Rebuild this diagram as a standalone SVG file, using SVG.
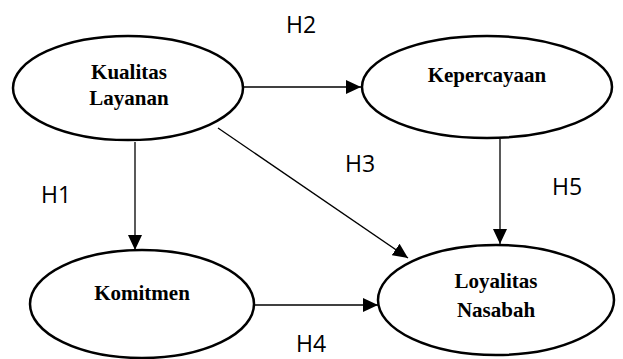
<svg xmlns="http://www.w3.org/2000/svg" width="623" height="359" viewBox="0 0 623 359">
<style>
.node ellipse{fill:#fff;stroke:#000;stroke-width:2.5}
.node text{font-family:"Liberation Serif","Times New Roman",serif;font-weight:bold;font-size:21px;text-anchor:middle;fill:#000}
.edge{stroke:#000;stroke-width:1.3;fill:none;marker-end:url(#arr)}
.lbl{font-family:"Open Sans","Liberation Sans",sans-serif;font-size:23px;fill:#000}
</style>
<defs>
<marker id="arr" markerUnits="userSpaceOnUse" markerWidth="16" markerHeight="14" refX="15" refY="7" orient="auto">
<path d="M0,0 L15,7 L0,14 Z" fill="#000"/>
</marker>
</defs>
<rect width="623" height="359" fill="#fff"/>
<g id="connectors">
<line class="edge" x1="244" y1="87" x2="361" y2="87"/>
<line class="edge" x1="135" y1="142" x2="135" y2="250"/>
<line class="edge" x1="218" y1="128" x2="408" y2="258"/>
<line class="edge" x1="500" y1="139" x2="500" y2="244"/>
<line class="edge" x1="254" y1="305" x2="378" y2="305"/>
</g>
<g id="kualitas-layanan" class="node">
<ellipse cx="128" cy="88" rx="115" ry="52"/>
<text x="129" y="79">Kualitas</text>
<text x="129" y="105">Layanan</text>
</g>
<g id="kepercayaan" class="node">
<ellipse cx="487" cy="87" rx="125" ry="51"/>
<text x="487" y="82">Kepercayaan</text>
</g>
<g id="komitmen" class="node">
<ellipse cx="142" cy="304" rx="112" ry="54"/>
<text x="142" y="300">Komitmen</text>
</g>
<g id="loyalitas-nasabah" class="node">
<ellipse cx="496" cy="300" rx="118" ry="55"/>
<text x="496" y="288">Loyalitas</text>
<text x="496" y="317">Nasabah</text>
</g>
<g id="labels">
<text class="lbl" x="286" y="33">H2</text>
<text class="lbl" x="41" y="203">H1</text>
<text class="lbl" x="345" y="172">H3</text>
<text class="lbl" x="552" y="195">H5</text>
<text class="lbl" x="296" y="352">H4</text>
</g>
</svg>
